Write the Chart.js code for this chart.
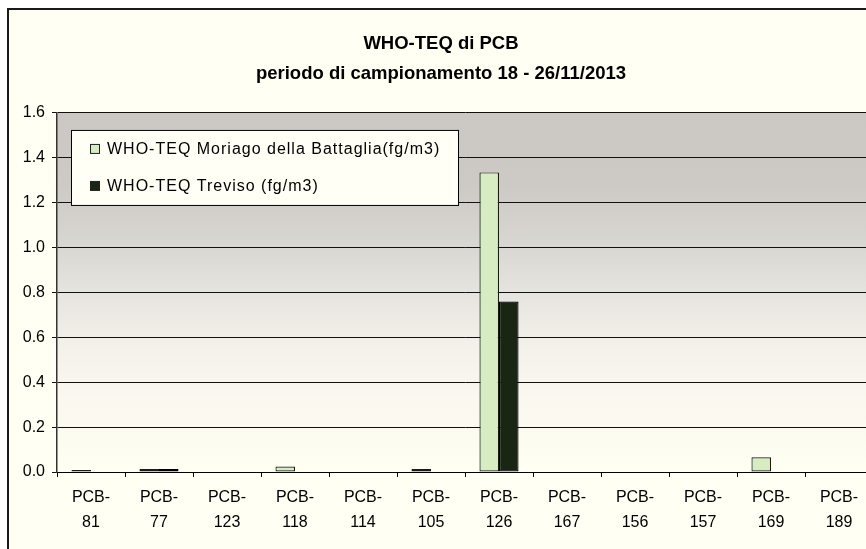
<!DOCTYPE html>
<html>
<head>
<meta charset="utf-8">
<script src="https://cdn.jsdelivr.net/npm/chart.js@4.4.0/dist/chart.umd.min.js"></script>
<style>
  html, body { margin: 0; padding: 0; background: #ffffff; overflow: hidden; }
  #box {
    position: absolute; left: 7px; top: 8px;
    width: 900px; height: 600px;
    border: 2px solid #1a1a1a;
    background: #fffff3;
  }
  #wrap { position: absolute; left: 0; top: 0; width: 880px; height: 560px; }
</style>
</head>
<body>
<div id="box"><div id="wrap"><canvas id="pcbChart" width="880" height="560"></canvas></div></div>
<script>
// categorie
const categories = [
    ['PCB-', '81'], ['PCB-', '77'], ['PCB-', '123'], ['PCB-', '118'],
    ['PCB-', '114'], ['PCB-', '105'], ['PCB-', '126'], ['PCB-', '167'],
    ['PCB-', '156'], ['PCB-', '157'], ['PCB-', '169'], ['PCB-', '189']
];
// valori WHO-TEQ (fg/m3)
const moriagoValues = [0.009, 0.013, 0, 0.024, 0, 0.013, 1.335, 0, 0, 0, 0.066, 0];
const trevisoValues = [0, 0.013, 0, 0, 0, 0, 0.76, 0, 0, 0, 0, 0];
const yTicks = [0, 0.2, 0.4, 0.6, 0.8, 1.0, 1.2, 1.4, 1.6];
const seriesLabels = ['WHO-TEQ Moriago della Battaglia(fg/m3)', 'WHO-TEQ Treviso (fg/m3)'];

const FONT = "'Liberation Sans', Arial, sans-serif";

// sfondo sfumato dell'area del grafico
const plotBackground = {
    id: 'plotBackground',
    beforeDraw(chart) {
        const { ctx, chartArea: a } = chart;
        const g = ctx.createLinearGradient(0, a.top, 0, a.bottom);
        g.addColorStop(0, '#cbc8c3');
        g.addColorStop(0.2, '#cdcac5');
        g.addColorStop(0.35, '#d7d5d0');
        g.addColorStop(0.5, '#e6e4de');
        g.addColorStop(0.65, '#f3f1ea');
        g.addColorStop(0.8, '#faf8ef');
        g.addColorStop(1, '#fffff2');
        ctx.save();
        ctx.fillStyle = g;
        ctx.fillRect(a.left, a.top, a.right - a.left, a.bottom - a.top);
        ctx.restore();
    }
};

// legenda con cornice, dentro l'area del grafico
const boxedLegend = {
    id: 'boxedLegend',
    afterDraw(chart) {
        const { ctx, chartArea: a } = chart;
        const x = a.left + 14, y = a.top + 17, w = 387, h = 75;
        ctx.save();
        ctx.fillStyle = '#fffff6';
        ctx.fillRect(x, y, w, h);
        ctx.strokeStyle = '#000';
        ctx.lineWidth = 1;
        ctx.strokeRect(x + 0.5, y + 0.5, w, h);
        ctx.font = '16px ' + FONT;
        ctx.letterSpacing = '1px';
        ctx.textBaseline = 'middle';
        chart.data.datasets.forEach((ds, i) => {
            const cy = y + 19 + i * 37;
            ctx.fillStyle = ds.backgroundColor;
            ctx.fillRect(x + 19.5, cy - 4.5, 9, 9);
            ctx.strokeStyle = '#222';
            ctx.strokeRect(x + 19.5, cy - 4.5, 9, 9);
            ctx.fillStyle = '#000';
            ctx.fillText(ds.label, x + 36, cy + 1);
        });
        ctx.restore();
    }
};

const ctx = document.getElementById('pcbChart').getContext('2d');
const chart = new Chart(ctx, {
    type: 'bar',
    data: {
        labels: categories,
        datasets: [{
            label: seriesLabels[0],
            data: moriagoValues,
            backgroundColor: '#d8ecc4',
            borderColor: '#1a1a1a',
            borderWidth: 1.2,
            borderSkipped: false
        }, {
            label: seriesLabels[1],
            data: trevisoValues,
            backgroundColor: '#1a2614',
            borderColor: '#000000',
            borderWidth: 1.2,
            borderSkipped: false
        }]
    },
    options: {
        responsive: false,
        animation: false,
        categoryPercentage: 0.575,
        barPercentage: 1.0,
        layout: { padding: { left: 0, right: 16, top: 0, bottom: 0 } },
        plugins: {
            legend: { display: false },
            tooltip: { enabled: false },
            title: {
                display: true,
                text: ['WHO-TEQ di PCB', 'periodo di campionamento 18 - 26/11/2013'],
                color: '#000',
                font: { family: FONT, size: 18.5, weight: 'bold', lineHeight: 1.62 },
                padding: { top: 19, bottom: 24 }
            }
        },
        scales: {
            x: {
                grid: {
                    display: true,
                    drawOnChartArea: false,
                    drawTicks: true,
                    tickLength: 5,
                    color: '#000'
                },
                border: { display: true, color: '#000', width: 1 },
                ticks: {
                    color: '#000',
                    maxRotation: 0,
                    autoSkip: false,
                    padding: 8,
                    font: { family: FONT, size: 16, lineHeight: 1.5625 }
                },
                afterFit(scale) { scale.height = 98; }
            },
            y: {
                min: 0,
                max: 1.6,
                afterBuildTicks(scale) {
                    scale.ticks = yTicks.map(v => ({ value: v }));
                },
                grid: {
                    color: '#111',
                    lineWidth: 1,
                    drawTicks: true,
                    tickLength: 5
                },
                border: { display: true, color: '#333', width: 1.5 },
                ticks: {
                    color: '#000',
                    padding: 7,
                    font: { family: FONT, size: 16 },
                    callback: v => Number(v).toFixed(1)
                },
                afterFit(scale) { scale.width = 48; }
            }
        }
    },
    plugins: [plotBackground, boxedLegend]
});
</script>
</body>
</html>
